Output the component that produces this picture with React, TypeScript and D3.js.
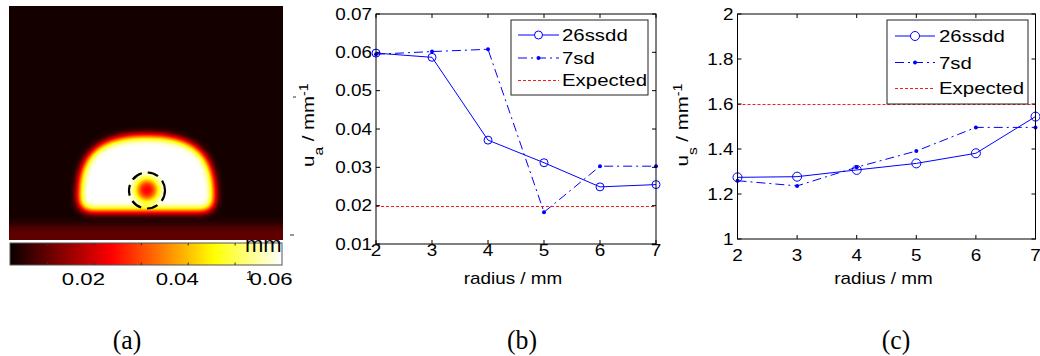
import React from "react";
import * as d3 from "d3";

// Inclusion radius (mm) for each reconstruction
const radii = [2, 3, 4, 5, 6, 7];

// Reconstructed absorption coefficient u_a (mm^-1)
const muA26ssdd = [0.0598, 0.0587, 0.0371, 0.0312, 0.0249, 0.0255];
const muA7sd = [0.0595, 0.0602, 0.0608, 0.0183, 0.0303, 0.0303];
const muAExpected = 0.02;

// Reconstructed scattering coefficient u_s (mm^-1)
const muS26ssdd = [1.274, 1.277, 1.307, 1.336, 1.381, 1.544];
const muS7sd = [1.259, 1.236, 1.319, 1.391, 1.496, 1.496];
const muSExpected = 1.6;

const seriesNames = ["26ssdd", "7sd", "Expected"];
const muATicks = [0.01, 0.02, 0.03, 0.04, 0.05, 0.06, 0.07];
const muSTicks = [1, 1.2, 1.4, 1.6, 1.8, 2];
const radiusTicks = [2, 3, 4, 5, 6, 7];
const colorbarDomain = [0.002, 0.06];
const colorbarTicks = [0.01, 0.02, 0.03, 0.04, 0.05];
const colorbarLabels = [0.02, 0.04, 0.06];
const panelLabels = ["(a)", "(b)", "(c)"];

const FONT = "'Liberation Sans', Arial, Helvetica, sans-serif";
const SERIF = "'Liberation Serif', 'Times New Roman', Times, serif";
const BLUE = "#0000ff";

type TxtProps = {
  x: number;
  y: number;
  size?: number;
  sx?: number;
  anchor?: "start" | "middle" | "end";
  family?: string;
  children: React.ReactNode;
};

// Text that is stretched horizontally around its anchor point
function Txt({ x, y, size = 16, sx = 1.18, anchor = "start", family = FONT, children }: TxtProps) {
  return (
    <text
      transform={`translate(${x},${y}) scale(${sx},1)`}
      fontSize={size}
      textAnchor={anchor}
      fontFamily={family}
      fill="#000"
    >
      {children}
    </text>
  );
}

const gray = (v: number) => {
  const c = Math.round(v * 255);
  return `rgb(${c},${c},${c})`;
};

// snap a horizontal hairline to the pixel grid
const crisp = (v: number) => Math.round(v) + 0.5;

// Reconstructed absorption map rendered through the "hot" colour map
function HeatPanel() {
  const img = { x: 9, y: 6, w: 274, h: 234 };
  const cb = { x: 10, y: 243, w: 272, h: 22 };
  const cx = d3.scaleLinear().domain(colorbarDomain).range([cb.x, cb.x + cb.w]);

  // half-dome phantom outline
  const domeCx = 146.5, domeTop = 136, domeMid = 196, domeBottom = 211, halfW = 67.5, k = 0.7, corner = 13;
  const l = domeCx - halfW, r = domeCx + halfW, hh = domeMid - domeTop;
  const dome = d3.path();
  dome.moveTo(l, domeMid);
  dome.bezierCurveTo(l, domeMid - hh * k, domeCx - halfW * k, domeTop, domeCx, domeTop);
  dome.bezierCurveTo(domeCx + halfW * k, domeTop, r, domeMid - hh * k, r, domeMid);
  dome.lineTo(r, domeBottom - corner);
  dome.quadraticCurveTo(r, domeBottom, r - corner, domeBottom);
  dome.lineTo(l + corner, domeBottom);
  dome.quadraticCurveTo(l, domeBottom, l, domeBottom - corner);
  dome.closePath();

  return (
    <g>
      <defs>
        <clipPath id="imgClip">
          <rect x={img.x} y={img.y} width={img.w} height={img.h} />
        </clipPath>
        <filter
          id="hotMap"
          filterUnits="userSpaceOnUse"
          x={-20}
          y={-20}
          width={340}
          height={290}
          colorInterpolationFilters="sRGB"
        >
          <feGaussianBlur stdDeviation={4.3} />
          <feComponentTransfer>
            <feFuncR type="table" tableValues="0 0.333 0.667 1 1 1 1 1 1" />
            <feFuncG type="table" tableValues="0 0 0 0 0.333 0.667 1 1 1" />
            <feFuncB type="table" tableValues="0 0 0 0 0 0 0 0.5 1" />
          </feComponentTransfer>
        </filter>
        <linearGradient id="hotBar" x1="0" x2="1" y1="0" y2="0">
          <stop offset="0" stopColor="rgb(10,0,0)" />
          <stop offset="0.375" stopColor="#ff0000" />
          <stop offset="0.75" stopColor="#ffff00" />
          <stop offset="1" stopColor="#ffffff" />
        </linearGradient>
      </defs>
      <g clipPath="url(#imgClip)">
        <g filter="url(#hotMap)">
          <rect x={-10} y={-10} width={320} height={270} fill={gray(0.03)} />
          <rect x={-10} y={225} width={320} height={40} fill={gray(0.14)} />
          <path d={dome.toString()} fill="#fff" />
          <circle cx={147} cy={190} r={11} fill={gray(0.36)} />
        </g>
      </g>
      <circle cx={147} cy={190.5} r={18} fill="none" stroke="#000" strokeWidth={2.2} strokeDasharray="11,6" />
      <line x1={293} x2={296} y1={97} y2={97} stroke="#333" />

      {/* colour bar */}
      <rect x={cb.x} y={cb.y} width={cb.w} height={cb.h} fill="url(#hotBar)" stroke="#555" strokeWidth={1} />
      {colorbarTicks.map((t) => (
        <g key={t} stroke="#333">
          <line x1={cx(t)} x2={cx(t)} y1={cb.y} y2={cb.y + 2.5} />
          <line x1={cx(t)} x2={cx(t)} y1={cb.y + cb.h - 2.5} y2={cb.y + cb.h} />
        </g>
      ))}
      {colorbarLabels.map((t) => (
        <Txt key={t} x={cx(t) - 11} y={285} size={16.3} sx={1.36} anchor="middle">
          {d3.format(".2f")(t)}
        </Txt>
      ))}
      <Txt x={245} y={252} size={22} sx={1}>mm</Txt>
      <line x1={290} x2={294} y1={235} y2={235} stroke="#333" />
      <Txt x={246} y={280} size={13} sx={1}>1</Txt>
    </g>
  );
}

type PanelProps = {
  left: number;
  right: number;
  top: number;
  bottom: number;
  yDomain: [number, number];
  yTicks: number[];
  yFmt: (v: number) => string;
  s26: number[];
  s7: number[];
  expected: number;
  sub: string;
  ylabX: number;
  xTickBase: number;
  circleR: number;
  legend: { x0: number; x1: number; y0: number; y1: number; rows: number[]; lx0: number; lx1: number; tx: number };
};

function LinePanel(p: PanelProps) {
  const x = d3.scaleLinear().domain([2, 7]).range([p.left, p.right]);
  const y = d3.scaleLinear().domain(p.yDomain).range([p.bottom, p.top]);
  const line = d3
    .line<[number, number]>()
    .x((d) => x(d[0]))
    .y((d) => y(d[1]));
  const pts26: [number, number][] = radii.map((rr, i) => [rr, p.s26[i]]);
  const pts7: [number, number][] = radii.map((rr, i) => [rr, p.s7[i]]);
  const tk = 4;
  const lg = p.legend;
  const midX = (p.left + p.right) / 2;
  const dashDot = "9,4,2,4";
  const yExp = crisp(y(p.expected));

  return (
    <g>
      {/* expected value */}
      <line x1={x(2)} x2={x(7)} y1={yExp} y2={yExp} stroke="#ff1a1a" strokeDasharray="3,2" />
      {/* 26ssdd */}
      <path d={line(pts26) || ""} fill="none" stroke={BLUE} strokeWidth={1} />
      {pts26.map((d, i) => (
        <circle key={i} cx={x(d[0])} cy={y(d[1])} r={p.circleR} fill="none" stroke={BLUE} />
      ))}
      {/* 7sd */}
      <path d={line(pts7) || ""} fill="none" stroke={BLUE} strokeWidth={1} strokeDasharray={dashDot} />
      {pts7.map((d, i) => (
        <circle key={i} cx={x(d[0])} cy={y(d[1])} r={2} fill={BLUE} />
      ))}

      {/* axes box and inward ticks */}
      <rect
        x={p.left}
        y={p.top}
        width={p.right - p.left}
        height={p.bottom - p.top}
        fill="none"
        stroke="#000"
        strokeWidth={1}
      />
      {radiusTicks.map((t) => (
        <g key={t} stroke="#000">
          <line x1={x(t)} x2={x(t)} y1={p.bottom} y2={p.bottom - tk} />
          <line x1={x(t)} x2={x(t)} y1={p.top} y2={p.top + tk} />
        </g>
      ))}
      {p.yTicks.map((t) => (
        <g key={t} stroke="#000">
          <line x1={p.left} x2={p.left + tk} y1={y(t)} y2={y(t)} />
          <line x1={p.right} x2={p.right - tk} y1={y(t)} y2={y(t)} />
        </g>
      ))}
      {radiusTicks.map((t) => (
        <Txt key={t} x={x(t)} y={p.xTickBase} anchor="middle">
          {String(t)}
        </Txt>
      ))}
      {p.yTicks.map((t) => (
        <Txt key={t} x={p.left - 4} y={y(t) + 5.8} anchor="end">
          {p.yFmt(t)}
        </Txt>
      ))}
      <Txt x={midX - 3} y={284} anchor="middle">
        radius / mm
      </Txt>
      <text
        transform={`translate(${p.ylabX},125) rotate(-90) scale(1.2,1)`}
        fontSize={17}
        textAnchor="middle"
        fontFamily={FONT}
      >
        u
        <tspan dy={9} fontSize={13}>
          {p.sub}
        </tspan>
        <tspan dy={-9}> / mm</tspan>
        <tspan dy={-6} fontSize={12}>
          -1
        </tspan>
      </text>

      {/* legend */}
      <rect x={lg.x0} y={lg.y0} width={lg.x1 - lg.x0} height={lg.y1 - lg.y0} fill="#fff" stroke="#222" />
      <line x1={lg.lx0} x2={lg.lx1} y1={lg.rows[0]} y2={lg.rows[0]} stroke={BLUE} />
      <circle cx={(lg.lx0 + lg.lx1) / 2} cy={lg.rows[0]} r={p.circleR} fill="#fff" stroke={BLUE} />
      <line x1={lg.lx0} x2={lg.lx1} y1={lg.rows[1]} y2={lg.rows[1]} stroke={BLUE} strokeDasharray={dashDot} />
      <circle cx={(lg.lx0 + lg.lx1) / 2} cy={lg.rows[1]} r={2} fill={BLUE} />
      <line
        x1={lg.lx0}
        x2={lg.lx1}
        y1={crisp(lg.rows[2])}
        y2={crisp(lg.rows[2])}
        stroke="#ff1a1a"
        strokeDasharray="3,2"
      />
      {seriesNames.map((n, i) => (
        <Txt key={n} x={lg.tx} y={lg.rows[i] + 6.3} size={17} sx={1.2}>
          {n}
        </Txt>
      ))}
    </g>
  );
}

export default function App() {
  const fmt2 = d3.format(".2f");
  const fmtS = (v: number) => (Number.isInteger(v) ? String(v) : d3.format(".1f")(v));
  const labelX = [127, 522, 896];
  return (
    <svg
      width={1040}
      height={356}
      viewBox="0 0 1040 356"
      style={{ position: "absolute", left: 0, top: 0, background: "#fff" }}
    >
      <rect width={1040} height={356} fill="#fff" />
      <HeatPanel />
      <LinePanel
        left={376}
        right={656}
        top={14}
        bottom={244}
        yDomain={[0.01, 0.07]}
        yTicks={muATicks}
        yFmt={fmt2}
        s26={muA26ssdd}
        s7={muA7sd}
        expected={muAExpected}
        sub="a"
        ylabX={314}
        xTickBase={256}
        circleR={4}
        legend={{ x0: 511, x1: 648, y0: 20, y1: 95, rows: [35, 58, 80], lx0: 518, lx1: 559, tx: 562 }}
      />
      <LinePanel
        left={737.5}
        right={1035.5}
        top={14}
        bottom={239}
        yDomain={[1, 2]}
        yTicks={muSTicks}
        yFmt={fmtS}
        s26={muS26ssdd}
        s7={muS7sd}
        expected={muSExpected}
        sub="s"
        ylabX={688}
        xTickBase={261}
        circleR={4.5}
        legend={{ x0: 887, x1: 1028, y0: 20, y1: 104, rows: [36, 62.5, 88], lx0: 895, lx1: 935, tx: 939 }}
      />
      {panelLabels.map((t, i) => (
        <Txt key={t} x={labelX[i]} y={349} size={28} sx={0.92} anchor="middle" family={SERIF}>
          {t}
        </Txt>
      ))}
    </svg>
  );
}
